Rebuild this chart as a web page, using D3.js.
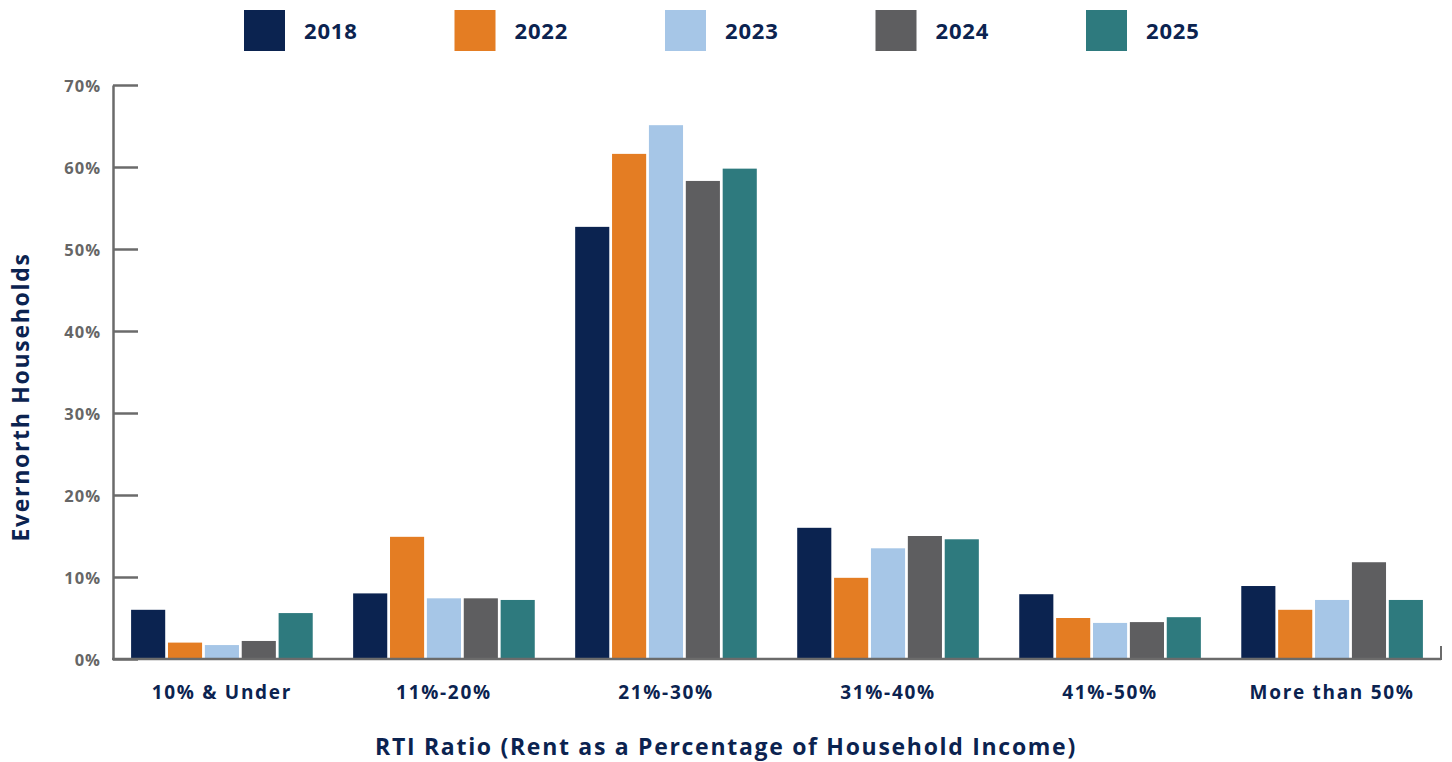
<!DOCTYPE html>
<html><head><meta charset="utf-8">
<script src="https://cdn.jsdelivr.net/npm/d3@7"></script>
<style>body{margin:0;background:#fff;} svg{display:block;font-family:"Open Sans", sans-serif;}</style>
</head><body>
<svg id="c" width="1452" height="762"></svg>
<script>
const categories = ["10% & Under","11%-20%","21%-30%","31%-40%","41%-50%","More than 50%"];
const seriesNames = ["2018","2022","2023","2024","2025"];
const s2018 = [6.0, 8.0, 52.7, 16.0, 7.9, 8.9];
const s2022 = [2.0, 14.9, 61.6, 9.9, 5.0, 6.0];
const s2023 = [1.7, 7.4, 65.1, 13.5, 4.4, 7.2];
const s2024 = [2.2, 7.4, 58.3, 15.0, 4.5, 11.8];
const s2025 = [5.6, 7.2, 59.8, 14.6, 5.1, 7.2];
const colors = ["#0b2350","#e47d23","#a6c6e7","#5e5e60","#2e7a7e"];
const yTicks = [0,10,20,30,40,50,60,70];

const seriesValues = [s2018,s2022,s2023,s2024,s2025];
const svg = d3.select("#c");
const mLeft = 113, mRight = 1441, mTop = 85, mBottom = 659;
const navy = "#0b2350", gray = "#6b6b6b";
const FONT = "'Open Sans', sans-serif";

const x = d3.scaleBand().domain(categories).range([mLeft,mRight]).paddingInner(0.182).paddingOuter(0.0815);
const xs = d3.scaleBand().domain(seriesNames).range([0,x.bandwidth()]).paddingInner(0.075);
const y = d3.scaleLinear().domain([0,70]).range([mBottom,mTop]);

// bars
categories.forEach((c,i)=>{
  seriesNames.forEach((s,j)=>{
    const v = seriesValues[j][i];
    svg.append("rect")
      .attr("x", x(c)+xs(s)).attr("width", xs.bandwidth())
      .attr("y", y(v)).attr("height", y(0)-y(v))
      .attr("fill", colors[j]);
  });
});

// y axis
const yAxis = svg.append("g").attr("transform",`translate(${mLeft},0)`)
  .call(d3.axisLeft(y).tickValues(yTicks).tickFormat(d=>d+"%").tickSize(-25).tickSizeOuter(0).tickPadding(12));
yAxis.select(".domain").attr("stroke",gray).attr("stroke-width",2.5);
yAxis.selectAll(".tick line").attr("stroke",gray).attr("stroke-width",2.5);
yAxis.selectAll(".tick text").attr("fill","#666").attr("font-size",16.5).attr("font-weight",700)
  .attr("font-family",FONT).attr("letter-spacing",1).attr("dy","0.4em");

// x axis baseline
svg.append("line").attr("x1",mLeft-1).attr("x2",mRight).attr("y1",mBottom).attr("y2",mBottom).attr("stroke",gray).attr("stroke-width",2.5);
svg.append("line").attr("x1",mRight).attr("x2",mRight).attr("y1",mBottom+1).attr("y2",mBottom-13).attr("stroke",gray).attr("stroke-width",2);

// category labels
svg.append("g").selectAll("text").data(categories).join("text")
  .attr("x",d=>x(d)+x.bandwidth()/2).attr("y",699)
  .attr("text-anchor","middle").attr("fill",navy).attr("font-size",19).attr("font-weight",700)
  .attr("letter-spacing",1.7)
  .text(d=>d);

// axis titles
svg.append("text").attr("x",726).attr("y",755).attr("text-anchor","middle")
  .attr("fill",navy).attr("font-size",23).attr("font-weight",700).attr("letter-spacing",1.7)
  .text("RTI Ratio (Rent as a Percentage of Household Income)");
svg.append("text").attr("transform","translate(29,397) rotate(-90)").attr("text-anchor","middle")
  .attr("fill",navy).attr("font-size",23).attr("font-weight",700).attr("letter-spacing",1.7)
  .text("Evernorth Households");

// legend
const lg = svg.append("g");
seriesNames.forEach((s,j)=>{
  const lx = 244 + j*210.5;
  lg.append("rect").attr("x",lx).attr("y",10).attr("width",41).attr("height",41).attr("fill",colors[j]);
  lg.append("text").attr("x",lx+60).attr("y",39).attr("fill",navy).attr("font-size",22).attr("font-weight",700)
    .attr("letter-spacing",0.8).text(s);
});
</script>
</body></html>
